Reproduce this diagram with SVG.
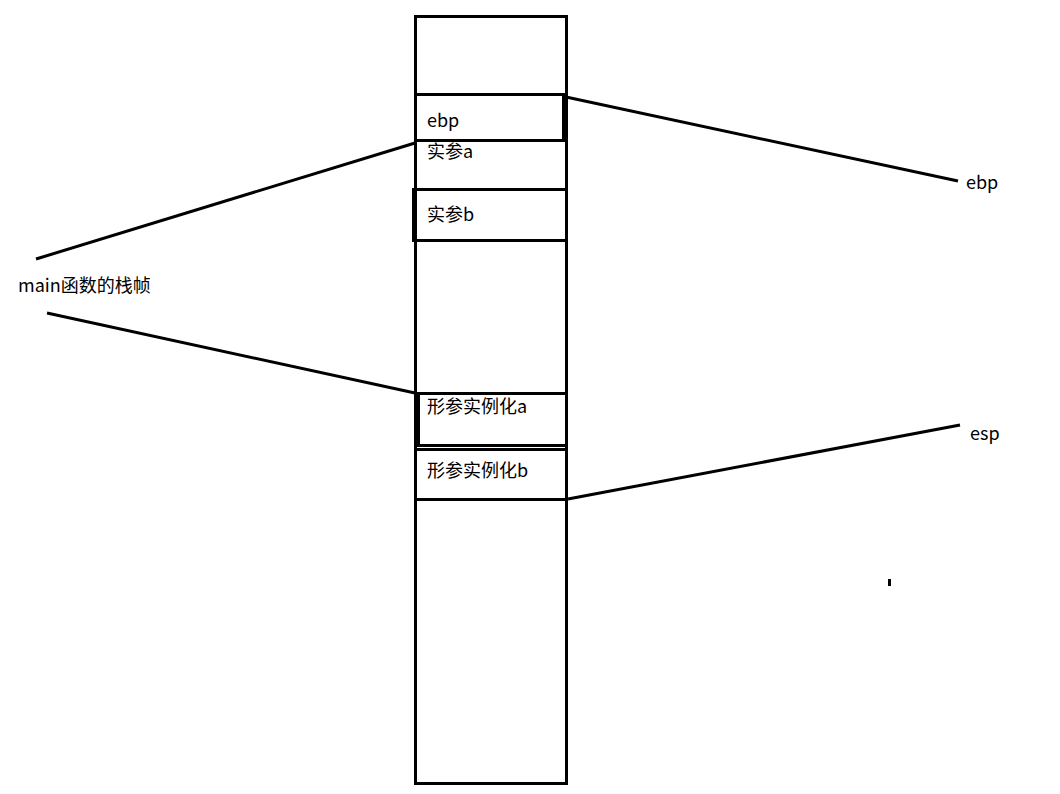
<svg xmlns="http://www.w3.org/2000/svg" width="1060" height="794" viewBox="0 0 1060 794">
<style>
.box{fill:none;stroke:#000;stroke-width:3}
.ln{stroke:#000;stroke-width:3;fill:none}
text{font-family:"Noto Sans CJK SC","Microsoft YaHei",sans-serif;font-size:18px;fill:#000}
</style>
<rect width="1060" height="794" fill="#fff"/>
<g id="stack"><rect class="box" x="415.5" y="16.5" width="151" height="767"/></g>
<g id="ebp-slot"><rect class="box" x="415.5" y="94.5" width="148" height="46" stroke-width="3.5"/><text x="427" y="127">ebp</text></g>
<g id="arg-a"><text x="427" y="158">实参a</text></g>
<g id="arg-b"><rect class="box" x="413.5" y="189.5" width="153" height="51"/><text x="427" y="221">实参b</text></g>
<g id="param-a"><rect class="box" x="418.5" y="393.5" width="148" height="52"/><text x="427" y="413">形参实例化a</text></g>
<g id="param-b"><rect class="box" x="415.5" y="449.5" width="151" height="50"/><text x="427" y="477">形参实例化b</text></g>
<g id="main-label"><text x="18" y="292">main函数的栈帧</text></g>
<g id="ebp-label"><text x="966" y="189">ebp</text></g>
<g id="esp-label"><text x="970" y="440">esp</text></g>
<g id="connectors">
<line class="ln" x1="566" y1="97" x2="958" y2="181"/>
<line class="ln" x1="568" y1="499" x2="960" y2="425"/>
<line class="ln" x1="36" y1="259" x2="415" y2="143"/>
<line class="ln" x1="47" y1="313" x2="415" y2="393"/>
</g>
<rect x="888" y="579" width="3" height="7" fill="#000"/>
</svg>
